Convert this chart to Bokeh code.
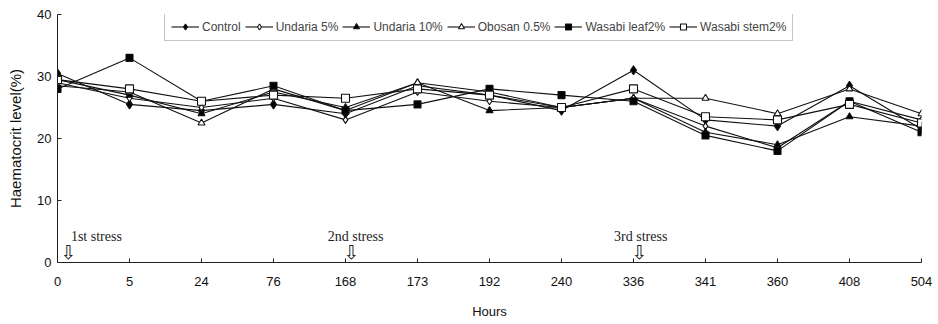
from bokeh.plotting import figure
from bokeh.models import Range1d, FixedTicker, Legend, LegendItem, ColumnDataSource
from bokeh.core.properties import value
from bokeh.embed import file_html
from bokeh.resources import INLINE

hours = ["0", "5", "24", "76", "168", "173", "192", "240", "336", "341", "360", "408", "504"]
control      = [30.5, 25.5, 24.5, 25.5, 24.0, 28.5, 27.0, 24.5, 31.0, 23.0, 22.0, 28.5, 21.5]
undaria5     = [29.0, 26.5, 25.0, 26.5, 23.0, 27.5, 26.0, 25.0, 26.5, 22.0, 18.5, 26.0, 23.0]
undaria10    = [29.5, 27.0, 24.0, 27.5, 25.0, 29.0, 24.5, 25.0, 26.5, 21.0, 19.0, 23.5, 22.0]
obosan       = [28.5, 27.5, 22.5, 28.0, 24.5, 29.0, 27.5, 25.0, 26.5, 26.5, 24.0, 28.0, 24.0]
wasabi_leaf  = [28.0, 33.0, 26.0, 28.5, 24.5, 25.5, 28.0, 27.0, 26.0, 20.5, 18.0, 26.0, 21.0]
wasabi_stem  = [29.5, 28.0, 26.0, 27.0, 26.5, 28.0, 27.0, 25.0, 28.0, 23.5, 23.0, 25.5, 22.5]

series_names = ["Control", "Undaria 5%", "Undaria 10%", "Obosan 0.5%", "Wasabi leaf2%", "Wasabi stem2%"]
series_vals = [control, undaria5, undaria10, obosan, wasabi_leaf, wasabi_stem]
markers = ["diamond", "diamond", "triangle", "triangle", "square", "square"]
fills = ["black", "white", "black", "white", "black", "white"]
sizes = [9, 7, 7, 7, 7, 8]

stress_labels = ["1st stress", "2nd stress", "3rd stress"]
stress_hours = ["0", "168", "336"]

xs = list(range(len(hours)))

p = figure(width=936, height=322, output_backend="svg", toolbar_location=None,
           x_range=Range1d(0, len(hours) - 1), y_range=Range1d(0, 40),
           min_border_left=57, min_border_right=15, min_border_top=14, min_border_bottom=60)
p.outline_line_color = None
p.xgrid.visible = False
p.ygrid.visible = False
p.background_fill_color = "white"

items = []
for name, vals, mk, fc, sz in zip(series_names, series_vals, markers, fills, sizes):
    src = ColumnDataSource(dict(x=xs, y=vals))
    r1 = p.line("x", "y", source=src, line_color="#111111", line_width=1.1)
    r2 = p.scatter("x", "y", source=src, marker=mk, size=sz, fill_color=fc,
                   line_color="#111111", line_width=1.1)
    items.append(LegendItem(label=name, renderers=[r1, r2]))

legend = Legend(items=items, orientation="horizontal", location=(107, 221),
                glyph_width=28, glyph_height=15, label_standoff=3, spacing=4,
                padding=6, margin=0, label_text_font="Liberation Sans",
                label_text_font_size="12px", label_height=15,
                border_line_color="#888888", border_line_width=1,
                background_fill_alpha=1.0)
p.add_layout(legend, "center")

# stress annotations
sidx = [hours.index(h) for h in stress_hours]
label_x = [sidx[0] + 0.54, sidx[1] + 0.14, sidx[2] + 0.1]
arrow_x = [i + 0.15 for i in sidx[:1]] + [i + 0.08 for i in sidx[1:]]
p.text(x=label_x, y=[3.0] * 3, text=stress_labels, text_font=value("Liberation Serif"),
       text_font_size="14px", text_align="center", text_baseline="bottom", text_color="#222222")
p.text(x=arrow_x, y=[0.0] * 3, text=["\u21e9"] * 3, text_font=value("DejaVu Sans"),
       text_font_size="19px", text_align="center", text_baseline="bottom", text_color="#222222")

p.xaxis.ticker = FixedTicker(ticks=xs)
p.xaxis.major_label_overrides = {i: h for i, h in zip(xs, hours)}
p.yaxis.ticker = FixedTicker(ticks=[0, 10, 20, 30, 40])
p.xaxis.axis_label = "Hours"
p.yaxis.axis_label = "Haematocrit level(%)"
for ax in (p.xaxis, p.yaxis):
    ax.axis_line_color = "#222222"
    ax.major_tick_line_color = "#222222"
    ax.major_tick_in = 4
    ax.major_tick_out = 0
    ax.minor_tick_line_color = None
    ax.major_label_text_font = "Liberation Sans"
    ax.major_label_text_font_size = "13px"
    ax.major_label_text_color = "#111111"
    ax.axis_label_text_font = "Liberation Sans"
    ax.axis_label_text_font_style = "normal"
    ax.axis_label_text_color = "#111111"
p.xaxis.major_label_standoff = 14
p.xaxis.axis_label_standoff = 15
p.xaxis.axis_label_text_font_size = "13px"
p.yaxis.major_label_standoff = 6
p.yaxis.axis_label_standoff = 10
p.yaxis.axis_label_text_font_size = "15px"

open("out.html", "w").write(file_html(p, INLINE))
